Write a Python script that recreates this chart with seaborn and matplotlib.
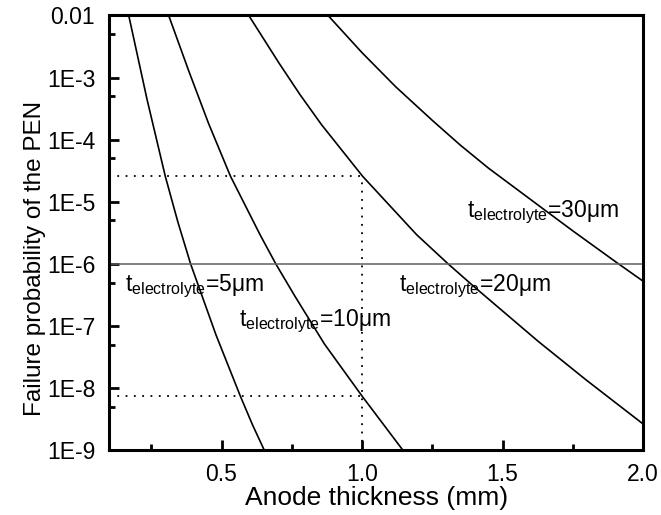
import numpy as np
import pandas as pd
import matplotlib
matplotlib.use("Agg")
import matplotlib.pyplot as plt
import matplotlib.ticker as mticker
import seaborn as sns

sns.set_theme(style="ticks")
plt.rcParams['font.family'] = ['Liberation Sans', 'DejaVu Sans']
plt.rcParams['mathtext.default'] = 'regular'
plt.rcParams['axes.labelcolor'] = 'black'
plt.rcParams['text.color'] = 'black'

# values: anode thickness (mm) and log10(failure probability)
x_5um = [0.170, 0.235, 0.300, 0.345, 0.390, 0.480, 0.567, 0.610, 0.652]
ly_5um = [-2.0, -3.35, -4.59, -5.33, -6.0, -7.14, -8.13, -8.59, -9.0]

x_10um = [0.312, 0.384, 0.454, 0.532, 0.637, 0.693, 0.761, 0.866, 1.0, 1.145]
ly_10um = [-2.0, -2.90, -3.74, -4.59, -5.53, -6.0, -6.52, -7.29, -8.13, -9.0]

x_20um = [0.597, 0.705, 0.78, 0.856, 1.002, 1.194, 1.306, 1.399, 1.627, 1.80, 2.0]
ly_20um = [-2.0, -2.77, -3.28, -3.76, -4.59, -5.53, -6.0, -6.37, -7.25, -7.88, -8.58]

x_30um = [0.879, 1.0, 1.12, 1.25, 1.35, 1.45, 1.634, 1.75, 1.906, 2.0]
ly_30um = [-2.0, -2.6, -3.15, -3.69, -4.09, -4.46, -5.08, -5.47, -5.98, -6.28]

curve_names = ["5", "10", "20", "30"]
target_prob = 1e-6
ref_thickness = 1.0
ref_prob_high = 2.6e-5
ref_prob_low = 7.4e-9

y_ticks = [1e-2, 1e-3, 1e-4, 1e-5, 1e-6, 1e-7, 1e-8, 1e-9]
y_ticklabels = ["0.01", "1E-3", "1E-4", "1E-5", "1E-6", "1E-7", "1E-8", "1E-9"]

frames = []
for name, xs, lys in zip(curve_names,
                         [x_5um, x_10um, x_20um, x_30um],
                         [ly_5um, ly_10um, ly_20um, ly_30um]):
    frames.append(pd.DataFrame({"thickness": xs,
                                "prob": 10.0 ** np.array(lys),
                                "t": name}))
df = pd.concat(frames, ignore_index=True)

fig = plt.figure(figsize=(6.61, 5.15), dpi=100)
ax = fig.add_axes([0.165, 0.126, 0.808, 0.844])

sns.lineplot(data=df, x="thickness", y="prob", units="t", estimator=None,
             color="black", lw=1.2, sort=False, ax=ax, legend=False)

ax.set_yscale("log")
ax.set_xlim(0.1, 2.0)
ax.set_ylim(1e-9, 1e-2)

# reference lines
ax.axhline(target_prob, color="#606060", lw=1.1)
dot = (0, (1, 3.6))
ax.plot([0.1, ref_thickness], [ref_prob_high, ref_prob_high], color="black", lw=1.3, ls=dot)
ax.plot([0.1, ref_thickness], [ref_prob_low, ref_prob_low], color="black", lw=1.3, ls=dot)
ax.plot([ref_thickness, ref_thickness], [1e-9, ref_prob_high], color="black", lw=1.3, ls=dot)

# curve labels
lab_kw = dict(fontsize=16.5, color="black", ha="left", va="baseline")
ax.text(0.158, 10 ** -6.44, r"t$_{electrolyte}$=5$\mu$m", **lab_kw)
ax.text(0.563, 10 ** -7.0, r"t$_{electrolyte}$=10$\mu$m", **lab_kw)
ax.text(1.132, 10 ** -6.44, r"t$_{electrolyte}$=20$\mu$m", **lab_kw)
ax.text(1.374, 10 ** -5.24, r"t$_{electrolyte}$=30$\mu$m", **lab_kw)

# ticks
ax.xaxis.set_major_locator(mticker.FixedLocator([0.5, 1.0, 1.5, 2.0]))
ax.xaxis.set_major_formatter(mticker.FixedFormatter(["0.5", "1.0", "1.5", "2.0"]))
ax.xaxis.set_minor_locator(mticker.FixedLocator([0.25, 0.75, 1.25, 1.75]))
ax.yaxis.set_major_locator(mticker.FixedLocator(y_ticks))
ax.yaxis.set_major_formatter(mticker.FixedFormatter(y_ticklabels))
ax.yaxis.set_minor_locator(mticker.FixedLocator([5 * v for v in y_ticks[1:]]))
ax.yaxis.set_minor_formatter(mticker.NullFormatter())
ax.tick_params(which="both", direction="in", width=2, top=False, right=False,
               labelsize=16.5, colors="black")
ax.tick_params(which="major", length=7)
ax.tick_params(axis="y", which="major", pad=10)
ax.tick_params(axis="x", which="major", pad=9)
ax.tick_params(which="minor", length=4)

for sp in ax.spines.values():
    sp.set_linewidth(2.2)
    sp.set_color("black")
    sp.set_visible(True)

ax.set_xlabel("Anode thickness (mm)", fontsize=19, labelpad=0)
ax.set_ylabel("Failure probability of the PEN", fontsize=17.5)
ax.yaxis.set_label_coords(-0.118, 0.44)

fig.savefig("out.png", dpi=100, facecolor="white")
